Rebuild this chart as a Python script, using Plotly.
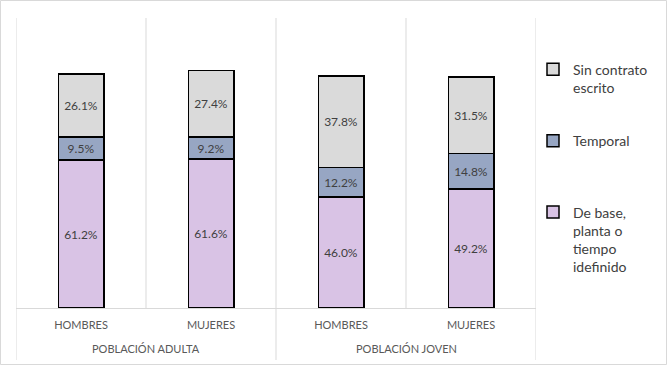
import plotly.graph_objects as go

groups = ["POBLACIÓN ADULTA", "POBLACIÓN ADULTA", "POBLACIÓN JOVEN", "POBLACIÓN JOVEN"]
sexes = ["HOMBRES", "MUJERES", "HOMBRES", "MUJERES"]
de_base = [61.2, 61.6, 46.0, 49.2]
temporal = [9.5, 9.2, 12.2, 14.8]
sin_contrato = [26.1, 27.4, 37.8, 31.5]

series = [
    ("De base,<br>planta o<br>tiempo<br>idefinido", de_base, "#D9C3E5", 3),
    ("Temporal<br> ", temporal, "#97A6C3", 2),
    ("Sin contrato<br>escrito", sin_contrato, "#DADADA", 1),
]

xpos = list(range(len(sexes)))

fig = go.Figure()
for name, vals, color, rank in series:
    fig.add_trace(go.Bar(
        x=xpos, y=vals, name=name, legendgroup="g%d" % rank, legendrank=rank,
        marker=dict(color=color, line=dict(color="#000000", width=1.5)),
        width=0.35,
        texttemplate="%{y:.1f}%", textposition="inside", insidetextanchor="middle",
        textfont=dict(family="Lato", size=12, color="#404040"),
        textangle=0, cliponaxis=False,
    ))

W, H = 667, 365
L, R, T, B = 16, 131, 18, 57
pw, ph = W - L - R, H - T - B

grid = "#D9D9D9"
shapes = []
# category boundaries inside the plot area
for i in range(len(sexes) + 1):
    shapes.append(dict(type="line", xref="x", yref="paper", x0=i - 0.5, x1=i - 0.5,
                       y0=0, y1=1, line=dict(color=grid, width=1), layer="below"))
# group dividers extending below the axis
group_names = []
for g in groups:
    if g not in group_names:
        group_names.append(g)
bounds = [-0.5]
for g in group_names:
    idx = [i for i, gg in enumerate(groups) if gg == g]
    bounds.append(max(idx) + 0.5)
for b in bounds:
    shapes.append(dict(type="line", xref="x", yref="paper", x0=b, x1=b,
                       y0=-(360 - 308) / ph, y1=0, line=dict(color=grid, width=1)))
# outer border
shapes.append(dict(
    type="rect", xref="paper", yref="paper",
    x0=(0.5 - L) / pw, x1=(W - 0.5 - L) / pw,
    y0=-(H - 0.5 - T - ph) / ph, y1=1 + (T - 0.5) / ph,
    line=dict(color=grid, width=1), fillcolor="rgba(0,0,0,0)", layer="below",
))

annotations = []
for g in group_names:
    idx = [i for i, gg in enumerate(groups) if gg == g]
    annotations.append(dict(
        x=sum(idx) / len(idx), xref="x", y=-(348 - 308) / ph, yref="paper",
        text=g, showarrow=False, xanchor="center", yanchor="middle",
        font=dict(family="Lato", size=11, color="#595959"),
    ))

fig.update_layout(
    width=W, height=H, barmode="stack",
    margin=dict(l=L, r=R, t=T, b=B, pad=0, autoexpand=False),
    paper_bgcolor="white", plot_bgcolor="white",
    font=dict(family="Lato", color="#595959"),
    showlegend=True,
    legend=dict(
        x=(533 - L) / pw, xanchor="left", y=0.877, yanchor="top",
        traceorder="grouped", tracegroupgap=32, valign="top",
        font=dict(family="Lato", size=14, color="#404040"),
        itemwidth=30, bgcolor="rgba(0,0,0,0)",
    ),
    uniformtext=dict(minsize=8, mode="show"),
    xaxis=dict(
        tickmode="array", tickvals=xpos, ticktext=sexes,
        range=[-0.5, len(sexes) - 0.5], showgrid=False, zeroline=False,
        showline=True, linecolor=grid, ticks="",
        tickfont=dict(family="Lato", size=11, color="#595959"),
        ticklabelstandoff=7, automargin=False,
    ),
    yaxis=dict(range=[0, 120], visible=False, showgrid=False),
    shapes=shapes,
    annotations=annotations,
)

fig.write_html(
    "out.html",
    config={"displayModeBar": False},
    post_script="document.body.style.margin='0';document.body.style.overflow='hidden';",
)
